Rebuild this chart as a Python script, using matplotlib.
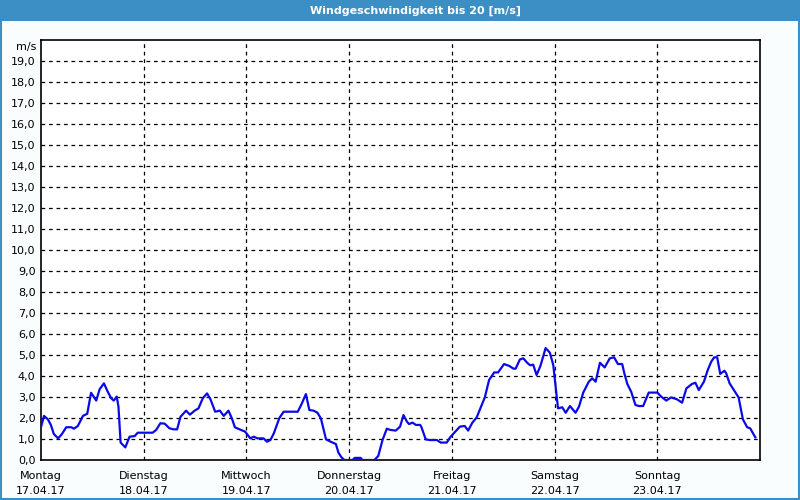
import matplotlib
matplotlib.use("Agg")
import matplotlib.pyplot as plt
from matplotlib.patches import Rectangle

# =========================================================================
#  Data  (hours since Montag 17.04.17 00:00, wind speed in m/s)
# =========================================================================
vHours = [
    0.0, 0.7, 1.6, 2.3, 3.0, 4.0, 4.9, 5.9, 7.1, 7.7, 8.6, 9.8, 10.8, 11.7,
    12.9, 13.7, 14.7, 15.6, 16.4, 17.0, 17.7, 18.1, 18.6, 19.7, 20.7, 21.9,
    22.6, 23.4, 26.1, 26.9, 27.9, 28.9, 30.0, 31.0, 31.8, 32.6, 33.9, 34.8,
    35.9, 36.8, 37.8, 38.8, 39.6, 40.7, 41.8, 42.7, 43.8, 44.6, 45.3, 46.4,
    47.7, 48.3, 48.9, 49.7, 50.6, 52.0, 52.8, 53.6, 54.4, 55.1, 55.7, 56.7,
    60.0, 60.9, 61.9, 62.7, 63.7, 64.6, 65.4, 66.6, 67.7, 68.9, 69.5, 70.2,
    70.9, 72.8, 73.3, 74.7, 75.1, 77.9, 78.8, 79.8, 80.8, 81.7, 82.9, 83.9,
    84.7, 85.5, 86.0, 86.8, 87.6, 88.6, 88.9, 89.9, 90.9, 92.5, 93.4, 94.8,
    95.6, 96.7, 97.9, 99.0, 99.8, 100.8, 101.8, 103.7, 104.7, 105.9, 106.8,
    108.2, 109.4, 110.4, 110.9, 111.9, 112.7, 113.6, 114.3, 115.0, 115.8,
    116.7, 117.9, 118.9, 119.7, 120.2, 120.8, 121.8, 122.6, 123.6, 124.9,
    125.7, 126.7, 128.0, 128.8, 129.6, 130.6, 131.7, 132.9, 133.9, 134.8,
    135.8, 136.3, 137.0, 137.9, 138.9, 139.7, 140.7, 142.0, 144.0, 144.9,
    146.1, 147.2, 148.6, 149.8, 150.8, 152.1, 152.9, 153.7, 154.9, 155.8,
    156.6, 157.3, 158.0, 158.7, 159.7, 160.1, 160.9, 161.9, 163.0, 164.0,
    165.0, 165.7, 166.9,
]
vSpeed = [
    1.56, 2.10, 1.94, 1.67, 1.24, 1.03, 1.24, 1.56, 1.56, 1.49, 1.62, 2.10,
    2.20, 3.20, 2.83, 3.37, 3.65, 3.25, 2.94, 2.83, 3.02, 2.54, 0.83, 0.60,
    1.11, 1.14, 1.30, 1.30, 1.30, 1.43, 1.75, 1.73, 1.51, 1.46, 1.46, 2.06,
    2.35, 2.16, 2.35, 2.46, 2.94, 3.17, 2.89, 2.30, 2.35, 2.10, 2.35, 1.98,
    1.56, 1.46, 1.35, 1.19, 1.03, 1.11, 1.03, 1.03, 0.87, 0.95, 1.27, 1.67,
    2.00, 2.30, 2.30, 2.67, 3.14, 2.38, 2.35, 2.25, 1.98, 0.98, 0.87, 0.76,
    0.35, 0.13, 0.00, 0.00, 0.10, 0.10, 0.00, 0.00, 0.19, 0.95, 1.49, 1.43,
    1.40, 1.59, 2.14, 1.83, 1.71, 1.78, 1.67, 1.67, 1.56, 0.98, 0.95, 0.95,
    0.83, 0.83, 1.08, 1.33, 1.59, 1.62, 1.40, 1.78, 2.03, 2.98, 3.81, 4.17,
    4.17, 4.57, 4.48, 4.35, 4.35, 4.79, 4.84, 4.63, 4.51, 4.54, 4.05, 4.48,
    5.33, 5.11, 4.52, 3.57, 2.46, 2.51, 2.25, 2.57, 2.25, 2.54, 3.21, 3.73,
    3.89, 3.73, 4.63, 4.41, 4.84, 4.89, 4.57, 4.57, 4.13, 3.62, 3.25, 2.62,
    2.57, 2.57, 3.21, 3.21, 3.02, 2.83, 2.98, 2.89, 2.73, 3.41, 3.62, 3.68,
    3.33, 3.73, 4.29, 4.68, 4.89, 4.89, 4.10, 4.25, 4.13, 3.65, 3.33, 2.98,
    1.94, 1.56, 1.51, 1.08,
]

cDays = ["Montag", "Dienstag", "Mittwoch", "Donnerstag", "Freitag", "Samstag", "Sonntag"]
cDates = ["17.04.17", "18.04.17", "19.04.17", "20.04.17", "21.04.17", "22.04.17", "23.04.17"]
vDayStart = [0, 24, 48, 72, 96, 120, 144]
vYTicks = list(range(0, 20))

TITLE = "Windgeschwindigkeit bis 20 [m/s]"
BAR_BLUE = "#3b8fc4"
LINE_BLUE = "#0a0ae8"

# =========================================================================
#  Figure
# =========================================================================
plt.rcParams["font.family"] = ["DejaVu Sans"]
fig = plt.figure(figsize=(8, 5), dpi=100, facecolor="#fafdfd")

# title bar + thin frame
fig.patches.append(Rectangle((0, 0.958), 1, 0.042, transform=fig.transFigure,
                             facecolor=BAR_BLUE, edgecolor="none", zorder=0))
fig.patches.append(Rectangle((0.001, 0.002), 0.998, 0.97, transform=fig.transFigure,
                             facecolor="none", edgecolor=BAR_BLUE, lw=1.5, zorder=0))
fig.text(0.52, 0.979, TITLE, color="white", fontsize=8, fontweight="bold",
         ha="center", va="center")

ax = fig.add_axes([0.05125, 0.08, 0.89875, 0.84])
ax.set_facecolor("white")
ax.plot(vHours, vSpeed, color=LINE_BLUE, lw=1.6, zorder=3)

ax.set_xlim(0, 168)
ax.set_ylim(0, 20)

ax.set_yticks(vYTicks)
ax.set_yticklabels([f"{v:.1f}".replace(".", ",") for v in vYTicks], fontsize=8)
ax.set_xticks(vDayStart)
ax.set_xticklabels([f"{d}\n{t}" for d, t in zip(cDays, cDates)], fontsize=8,
                   linespacing=1.6)
ax.tick_params(length=0, pad=4)
ax.tick_params(axis="x", pad=8)

for y in range(1, 20):
    ax.axhline(y, color="black", lw=0.9, ls=(0, (3, 3)), zorder=1)
for x in vDayStart[1:]:
    ax.axvline(x, color="black", lw=0.9, ls=(0, (3, 3)), zorder=1)

for s in ax.spines.values():
    s.set_linewidth(1.2)

ax.text(-0.006, 19.67, "m/s", fontsize=8, ha="right", va="center",
        transform=ax.get_yaxis_transform())

fig.savefig("out.png", dpi=100, facecolor=fig.get_facecolor())
